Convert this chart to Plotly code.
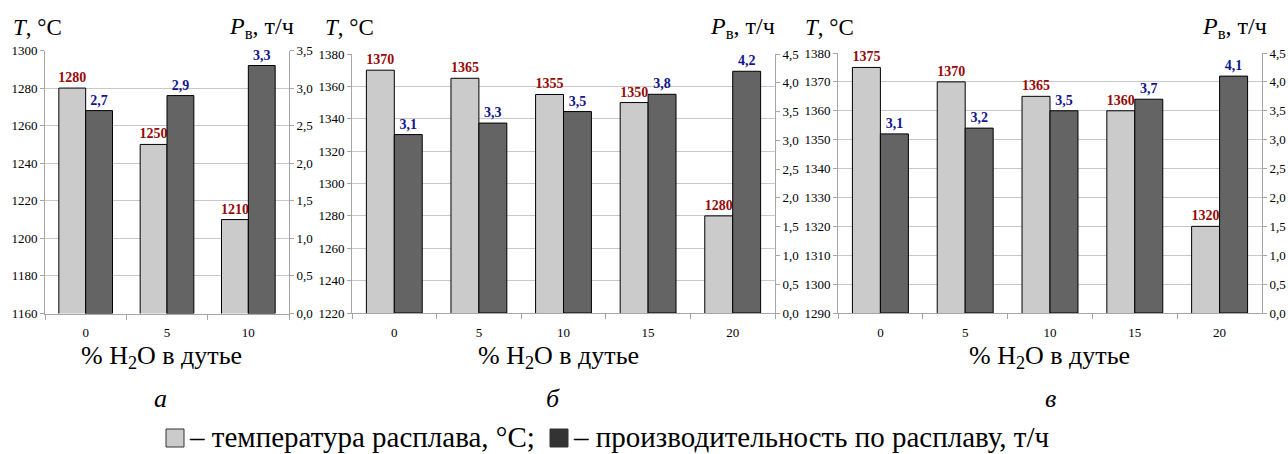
import plotly.graph_objects as go

# ---- data -------------------------------------------------------------
h2o_a = ["0", "5", "10"]
temp_a = [1280, 1250, 1210]
prod_a = [2.7, 2.9, 3.3]

h2o_b = ["0", "5", "10", "15", "20"]
temp_b = [1370, 1365, 1355, 1350, 1280]
prod_b = [3.1, 3.3, 3.5, 3.8, 4.2]

h2o_c = ["0", "5", "10", "15", "20"]
temp_c = [1375, 1370, 1365, 1360, 1320]
prod_c = [3.1, 3.2, 3.5, 3.7, 4.1]

temp_ranges = [(1160, 1300, 20), (1220, 1380, 20), (1290, 1380, 10)]
prod_ranges = [(0, 3.5, 0.5), (0, 4.5, 0.5), (0, 4.5, 0.5)]

panel_letters = ["а", "б", "в"]

# ---- style ------------------------------------------------------------
W, H = 1288, 454
FONT = "Liberation Serif"
LIGHT = "#CBCBCB"
DARK = "#646464"
RED = "#960A0A"
BLUE = "#14148C"
AXIS_GREY = "#A6A6A6"
GRID_GREY = "#C8C8C8"
BAR_W = 0.33


def px(x):
    return x / W


def py(y):
    return 1 - y / H


def comma(v):
    return f"{v:.1f}".replace(".", ",")


def f(size, **kw):
    return dict(family=FONT, size=size, color=kw.pop("color", "black"), **kw)


# plot-area boxes in pixels: (left, right, top, bottom)
boxes = [(45, 289, 50.5, 313.5), (352, 775, 54, 313), (838, 1262, 53, 313)]
panels = [(h2o_a, temp_a, prod_a), (h2o_b, temp_b, prod_b), (h2o_c, temp_c, prod_c)]

fig = go.Figure()
layout = dict(
    template="none",
    width=W, height=H,
    margin=dict(l=0, r=0, t=0, b=0),
    paper_bgcolor="white", plot_bgcolor="white",
    font=f(13),
    separators=", ",
    showlegend=False,
    barmode="overlay",
)

for i, ((cats, temps, prods), (l, r, t, b)) in enumerate(zip(panels, boxes)):
    xn = "x" if i == 0 else f"x{i + 1}"
    yl = "y" if i == 0 else f"y{2 * i + 1}"
    yr = f"y{2 * i + 2}"

    fig.add_trace(go.Bar(
        x=cats, y=temps, xaxis=xn, yaxis=yl,
        width=BAR_W, offset=-BAR_W,
        marker=dict(color=LIGHT, line=dict(color="black", width=1)),
        text=[str(v) for v in temps], textposition="outside",
        constraintext="none", cliponaxis=False,
        textfont=f(14, color=RED, weight="bold"),
    ))
    fig.add_trace(go.Bar(
        x=cats, y=prods, xaxis=xn, yaxis=yr,
        width=BAR_W, offset=0,
        marker=dict(color=DARK, line=dict(color="black", width=1)),
        text=[comma(v) for v in prods], textposition="outside",
        constraintext="none", cliponaxis=False,
        textfont=f(14, color=BLUE, weight="bold"),
    ))

    xkey = "xaxis" if i == 0 else f"xaxis{i + 1}"
    ylkey = "yaxis" if i == 0 else f"yaxis{2 * i + 1}"
    yrkey = f"yaxis{2 * i + 2}"

    layout[xkey] = dict(
        domain=[px(l), px(r)], anchor=yl, type="category",
        showline=True, linecolor=AXIS_GREY, linewidth=1,
        ticks="outside", tickson="boundaries", ticklen=5, tickcolor=AXIS_GREY,
        ticklabelstandoff=7,
        showgrid=False, zeroline=False, tickfont=f(13),
    )
    lo, hi, step = temp_ranges[i]
    layout[ylkey] = dict(
        domain=[py(b), py(t)], anchor=xn, range=[lo, hi], dtick=step,
        tick0=lo, showline=True, linecolor=AXIS_GREY, linewidth=1,
        ticks="outside", ticklen=4, tickcolor=AXIS_GREY,
        showgrid=True, gridcolor=GRID_GREY, gridwidth=1,
        zeroline=False, tickfont=f(13),
    )
    plo, phi, pstep = prod_ranges[i]
    layout[yrkey] = dict(
        overlaying=yl, anchor=xn, side="right",
        range=[plo, phi], dtick=pstep, tick0=plo, tickformat=".1f",
        showline=True, linecolor=AXIS_GREY, linewidth=1,
        ticks="outside", ticklen=4, tickcolor=AXIS_GREY,
        showgrid=False, zeroline=False, tickfont=f(13),
    )

fig.update_layout(**layout)

# ---- text annotations -------------------------------------------------
ann = []
t_label_left = [11, 323, 803]
p_label_right = [296, 777, 1269]
xtitle_center = [161, 558, 1049]
letter_center = [160, 553, 1050]
for i in range(3):
    ann.append(dict(x=px(t_label_left[i]), y=py(27), xref="paper", yref="paper",
                    xanchor="left", yanchor="middle", showarrow=False,
                    text="<i>T</i>, °C", font=f(23)))
    ann.append(dict(x=px(p_label_right[i]), y=py(28), xref="paper", yref="paper",
                    xanchor="right", yanchor="middle", showarrow=False,
                    text="<i>P</i><sub>в</sub>, т/ч", font=f(24)))
    ann.append(dict(x=px(xtitle_center[i]), y=py(357), xref="paper", yref="paper",
                    xanchor="center", yanchor="middle", showarrow=False,
                    text="% H<sub>2</sub>O в дутье", font=f(26)))
    ann.append(dict(x=px(letter_center[i]), y=py(398), xref="paper", yref="paper",
                    xanchor="center", yanchor="middle", showarrow=False,
                    text=f"<i>{panel_letters[i]}</i>", font=f(26)))

# legend line: swatches + captions
ann.append(dict(x=px(187), y=py(437), xref="paper", yref="paper",
                xanchor="left", yanchor="middle", showarrow=False,
                text="– температура расплава, °C;", font=f(29)))
ann.append(dict(x=px(571), y=py(437), xref="paper", yref="paper",
                xanchor="left", yanchor="middle", showarrow=False,
                text="– производительность по расплаву, т/ч", font=f(29)))

shapes = [
    dict(type="rect", xref="paper", yref="paper",
         x0=px(166), x1=px(184), y0=py(447), y1=py(429),
         fillcolor=LIGHT, line=dict(color="#333333", width=1)),
    dict(type="rect", xref="paper", yref="paper",
         x0=px(550), x1=px(568), y0=py(447), y1=py(429),
         fillcolor="#333333", line=dict(color="#333333", width=1)),
]

fig.update_layout(annotations=ann, shapes=shapes)

fig.write_html("out.html")
